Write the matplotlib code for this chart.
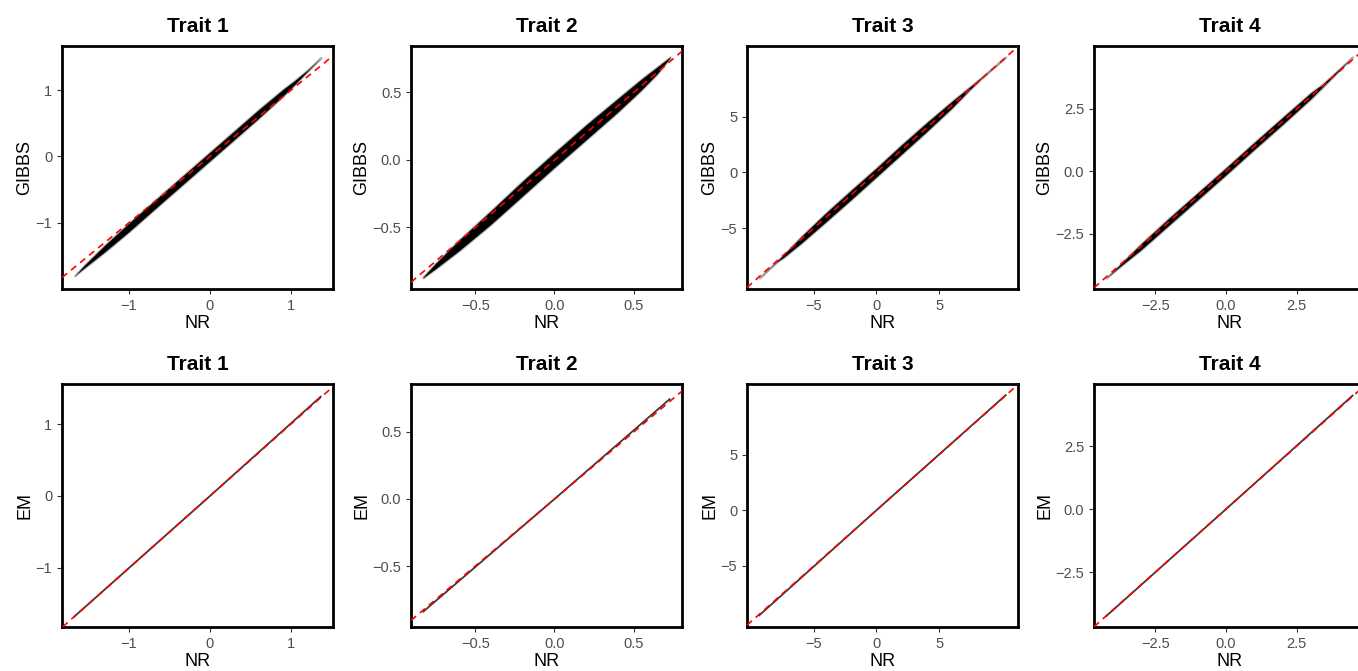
import matplotlib
matplotlib.use("Agg")
import matplotlib.pyplot as plt

plt.rcParams["font.family"] = ["Liberation Sans", "DejaVu Sans"]
plt.rcParams["axes.unicode_minus"] = True

traits = ["Trait 1", "Trait 2", "Trait 3", "Trait 4"]

# GIBBS estimates against NR: spread of the point cloud (lower / upper edge) along NR
nr_t1 = [-1.67, -1.55, -1.30, -1.00, -0.60, -0.30, 0.00, 0.30, 0.60, 0.90, 1.05, 1.20, 1.37]
gibbs_lo_t1 = [-1.80, -1.68, -1.44, -1.135, -0.705, -0.385, -0.065, 0.255, 0.575, 0.91, 1.09, 1.28, 1.49]
gibbs_hi_t1 = [-1.80, -1.64, -1.34, -1.005, -0.575, -0.255, 0.065, 0.385, 0.705, 1.01, 1.15, 1.30, 1.49]

nr_t2 = [-0.83, -0.75, -0.60, -0.40, -0.20, 0.00, 0.20, 0.40, 0.55, 0.65, 0.73]
gibbs_lo_t2 = [-0.873, -0.805, -0.67, -0.475, -0.265, -0.055, 0.15, 0.355, 0.52, 0.64, 0.757]
gibbs_hi_t2 = [-0.867, -0.765, -0.59, -0.375, -0.155, 0.055, 0.26, 0.455, 0.60, 0.69, 0.763]

nr_t3 = [-9.36, -8.0, -7.4, -6.0, -4.0, -2.0, 0.0, 2.0, 4.0, 6.0, 7.5, 8.5, 10.32]
gibbs_lo_t3 = [-9.48, -8.08, -7.62, -6.35, -4.40, -2.42, -0.40, 1.63, 3.65, 5.75, 7.48, 8.57, 10.35]
gibbs_hi_t3 = [-9.48, -8.02, -7.38, -5.75, -3.60, -1.58, 0.40, 2.47, 4.45, 6.35, 7.72, 8.63, 10.35]

nr_t4 = [-4.24, -3.75, -3.0, -2.0, -1.0, 0.0, 1.0, 2.0, 3.0, 3.4, 4.47]
gibbs_lo_t4 = [-4.28, -3.82, -3.14, -2.14, -1.14, -0.14, 0.88, 1.88, 2.91, 3.36, 4.58]
gibbs_hi_t4 = [-4.28, -3.74, -2.90, -1.86, -0.86, 0.14, 1.16, 2.16, 3.15, 3.48, 4.58]

# EM estimates against NR
nr_em_t1 = [-1.675, 0.0, 1.367]
em_t1 = [-1.675, 0.0, 1.38]
nr_em_t2 = [-0.828, 0.0, 0.727]
em_t2 = [-0.84, 0.0, 0.745]
nr_em_t3 = [-9.36, 0.0, 10.32]
em_t3 = [-9.45, 0.0, 10.35]
nr_em_t4 = [-4.24, 0.0, 4.47]
em_t4 = [-4.25, 0.0, 4.50]

# tick values and labels per trait
tick_values = [[-1, 0, 1], [-0.5, 0.0, 0.5], [-5, 0, 5], [-2.5, 0.0, 2.5]]
tick_labels = [["\u22121", "0", "1"], ["\u22120.5", "0.0", "0.5"],
               ["\u22125", "0", "5"], ["\u22122.5", "0.0", "2.5"]]

gibbs_sets = [(nr_t1, gibbs_lo_t1, gibbs_hi_t1), (nr_t2, gibbs_lo_t2, gibbs_hi_t2),
              (nr_t3, gibbs_lo_t3, gibbs_hi_t3), (nr_t4, gibbs_lo_t4, gibbs_hi_t4)]
em_sets = [(nr_em_t1, em_t1), (nr_em_t2, em_t2), (nr_em_t3, em_t3), (nr_em_t4, em_t4)]

# panel extents
xlims = [(-1.827, 1.519), (-0.906, 0.805), (-10.34, 11.30), (-4.67, 4.91)]
ylims_top = [(-2.00, 1.667), (-0.956, 0.844), (-10.47, 11.34), (-4.72, 5.02)]
ylims_bot = [(-1.82, 1.556), (-0.955, 0.858), (-10.50, 11.35), (-4.68, 4.96)]

W, H = 1358, 671
fig = plt.figure(figsize=(W / 100, H / 100), dpi=100)
fig.patch.set_facecolor("white")

col_left = [62, 411, 747, 1094]
panel_w, panel_h = 271, 243
row_top = [46, 384]


def style_axes(ax, i, ylabel, ylim):
    ax.set_xlim(*xlims[i])
    ax.set_ylim(*ylim)
    ax.set_xticks(tick_values[i])
    ax.set_xticklabels(tick_labels[i])
    ax.set_yticks(tick_values[i])
    ax.set_yticklabels(tick_labels[i])
    for sp in ax.spines.values():
        sp.set_linewidth(2.0)
        sp.set_color("black")
    ax.tick_params(axis="both", length=3.5, width=0.8, color="#333333",
                   labelsize=10.5, labelcolor="#4D4D4D", pad=3.5)
    ax.set_xlabel("NR", fontsize=13, color="black", labelpad=1.5)
    ax.set_ylabel(ylabel, fontsize=13, color="black", labelpad=1.5)
    ax.set_title(traits[i], fontsize=15, fontweight="bold", pad=10)
    ax.axline((0, 0), slope=1, color="red", lw=1.2, dashes=(4, 3), zorder=5)


for i in range(4):
    # top row: GIBBS vs NR
    l, t = col_left[i], row_top[0]
    ax = fig.add_axes([l / W, 1 - (t + panel_h) / H, panel_w / W, panel_h / H])
    nr, lo, hi = gibbs_sets[i]
    ax.fill_between(nr, lo, hi, facecolor="black", edgecolor=(0, 0, 0, 0.3),
                    linewidth=1.6, zorder=2)
    style_axes(ax, i, "GIBBS", ylims_top[i])

    # bottom row: EM vs NR
    t = row_top[1]
    ax = fig.add_axes([l / W, 1 - (t + panel_h) / H, panel_w / W, panel_h / H])
    nr, em = em_sets[i]
    ax.plot(nr, em, color="#3a3a3a", lw=1.3, zorder=2)
    style_axes(ax, i, "EM", ylims_bot[i])

fig.savefig("out.png", dpi=100, facecolor="white")
